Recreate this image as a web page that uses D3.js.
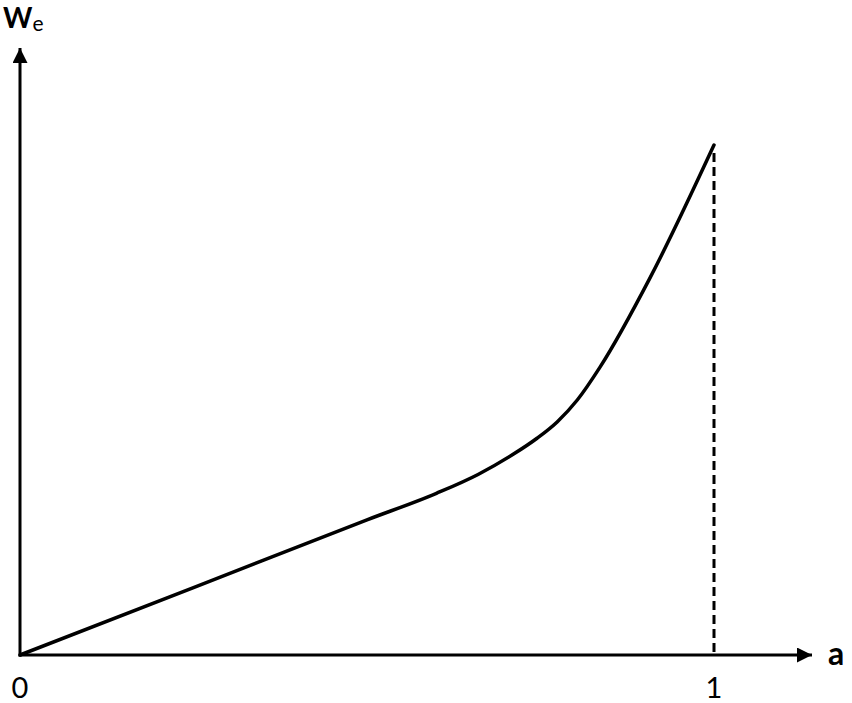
<!DOCTYPE html>
<html>
<head>
<meta charset="utf-8">
<script src="https://cdn.jsdelivr.net/npm/d3@7"></script>
<style>
  body { margin: 0; background: #fff; }
  text { font-family: Lato, "Open Sans", sans-serif; fill: #000; }
</style>
</head>
<body>
<svg id="chart" width="852" height="703"></svg>
<script>
const w = 852;
const h = 703;

// curve (a from 0 to 1, We scaled so the end is 1)
var aValues = [0, 0.25, 0.5, 0.6, 0.66, 0.71, 0.745, 0.774, 0.803, 0.836, 0.908, 1];
var weValues = [0, 0.132, 0.265, 0.317, 0.354, 0.393, 0.425, 0.457, 0.5, 0.565, 0.74, 1];
var xTickLabels = ["0", "1"];
var xTickValues = [0, 1];

var x = d3.scaleLinear().domain([0, 1]).range([20, 714]);
var y = d3.scaleLinear().domain([0, 1]).range([655, 145]);

var svg = d3.select("#chart");

svg.append("defs").append("marker")
  .attr("id", "arrow")
  .attr("viewBox", "0 0 10 10")
  .attr("refX", 10)
  .attr("refY", 5)
  .attr("markerUnits", "userSpaceOnUse")
  .attr("markerWidth", 15)
  .attr("markerHeight", 15)
  .attr("orient", "auto")
  .append("path")
  .attr("d", "M0,0 L10,5 L0,10 Z")
  .attr("fill", "#000");

// axes
svg.append("line")
  .attr("x1", x(0)).attr("y1", y(0))
  .attr("x2", 812).attr("y2", y(0))
  .attr("stroke", "#000").attr("stroke-width", 3)
  .attr("marker-end", "url(#arrow)");

svg.append("line")
  .attr("x1", x(0)).attr("y1", y(0) + 1.5)
  .attr("x2", x(0)).attr("y2", 48)
  .attr("stroke", "#000").attr("stroke-width", 3)
  .attr("marker-end", "url(#arrow)");

// dashed drop line at a = 1
svg.append("line")
  .attr("x1", x(1)).attr("y1", y(1) + 8)
  .attr("x2", x(1)).attr("y2", y(0))
  .attr("stroke", "#000").attr("stroke-width", 3)
  .attr("stroke-dasharray", "9,5");

// curve
var data = aValues.map(function (d, i) { return [d, weValues[i]]; });
var line = d3.line()
  .x(function (d) { return x(d[0]); })
  .y(function (d) { return y(d[1]); })
  .curve(d3.curveMonotoneX);

svg.append("path")
  .datum(data)
  .attr("d", line)
  .attr("fill", "none")
  .attr("stroke", "#000")
  .attr("stroke-width", 3.5)
  .attr("stroke-linecap", "round");

// tick labels
svg.selectAll("text.tick")
  .data(xTickValues)
  .enter()
  .append("text")
  .attr("class", "tick")
  .text(function (d, i) { return xTickLabels[i]; })
  .attr("x", function (d) { return x(d); })
  .attr("y", 698)
  .attr("text-anchor", "middle")
  .attr("font-size", "29px");

// axis titles
svg.append("text")
  .attr("x", 828)
  .attr("y", 665)
  .attr("font-size", "32px")
  .attr("font-weight", "bold")
  .text("a");

var yt = svg.append("text")
  .attr("x", 3)
  .attr("y", 28)
  .attr("font-size", "28px")
  .attr("font-weight", "bold");
yt.append("tspan").text("W");
yt.append("tspan")
  .attr("dy", 3)
  .attr("font-size", "21px")
  .attr("font-weight", "normal")
  .text("e");
</script>
</body>
</html>
